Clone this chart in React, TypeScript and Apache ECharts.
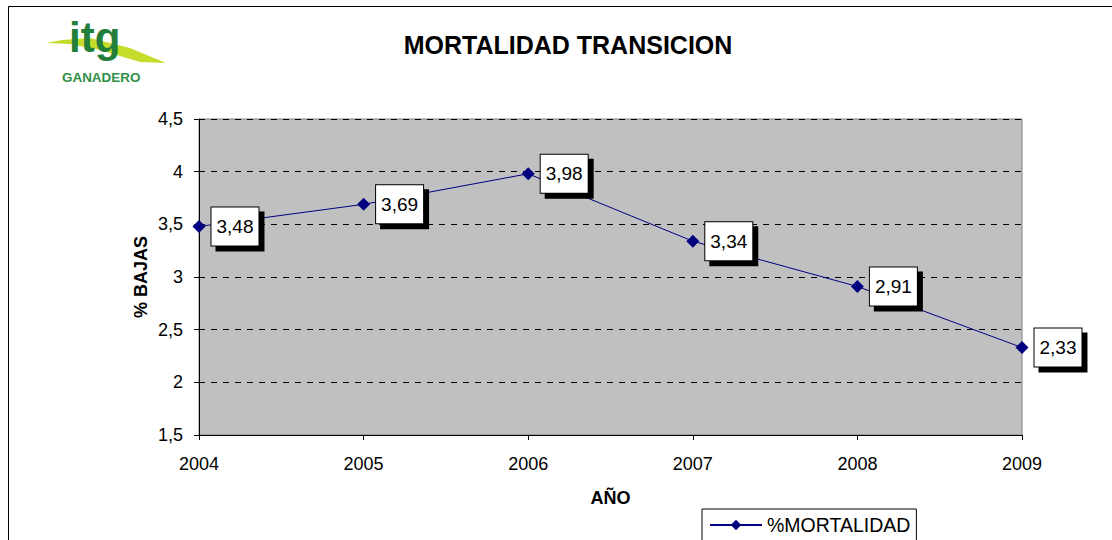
import React, { useEffect, useRef } from "react";
import * as echarts from "echarts";

const years = ["2004", "2005", "2006", "2007", "2008", "2009"];
const mortalidad = [3.48, 3.69, 3.98, 3.34, 2.91, 2.33];
const seriesName = "%MORTALIDAD";

export default function App() {
  const ref = useRef<HTMLDivElement>(null);
  useEffect(() => {
    const chart = echarts.init(ref.current!, null, { renderer: "svg" });
    const fmt = (v: number) => String(v).replace(".", ",");
    const ff = "Liberation Sans, Arial, sans-serif";
    chart.setOption({
      animation: false,
      backgroundColor: "#ffffff",
      textStyle: { fontFamily: ff },
      title: {
        text: "MORTALIDAD TRANSICION",
        left: 563,
        top: 27,
        textAlign: "center",
        textStyle: { fontSize: 25, fontWeight: "bold", color: "#000", fontFamily: ff },
      },
      legend: {
        left: 702,
        top: 509,
        padding: [6, 6, 6, 7],
        itemWidth: 52,
        itemHeight: 13,
        borderColor: "#000",
        borderWidth: 1,
        backgroundColor: "#fff",
        textStyle: { fontSize: 19.5, color: "#000", fontFamily: ff },
        data: [seriesName],
      },
      grid: {
        left: 199,
        top: 119,
        right: 90,
        bottom: 105,
        show: true,
        backgroundColor: "#c0c0c0",
        borderColor: "#808080",
        borderWidth: 1,
      },
      xAxis: {
        type: "category",
        data: years,
        boundaryGap: false,
        name: "AÑO",
        nameLocation: "middle",
        nameGap: 54,
        nameMoveOverlap: false,
        nameTextStyle: { fontSize: 18, fontWeight: "bold", color: "#000", fontFamily: ff },
        axisLine: { lineStyle: { color: "#000" } },
        axisTick: { show: true, length: 5, lineStyle: { color: "#000" } },
        axisLabel: { fontSize: 18, color: "#000", margin: 20, fontFamily: ff },
        splitLine: { show: false },
      },
      yAxis: {
        type: "value",
        min: 1.5,
        max: 4.5,
        interval: 0.5,
        name: "% BAJAS",
        nameLocation: "middle",
        nameGap: 49,
        nameMoveOverlap: false,
        nameTextStyle: { fontSize: 18, fontWeight: "bold", color: "#000", fontFamily: ff },
        axisLine: { show: true, lineStyle: { color: "#000" } },
        axisTick: { show: true, length: 5, lineStyle: { color: "#000" } },
        axisLabel: { fontSize: 18, color: "#000", margin: 16, formatter: fmt, fontFamily: ff },
        splitLine: { show: true, lineStyle: { color: "#000", type: [6, 6], width: 1 } },
      },
      series: [
        {
          name: seriesName,
          type: "line",
          data: mortalidad,
          symbol: "diamond",
          symbolSize: 13,
          itemStyle: { color: "#000080" },
          lineStyle: { color: "#000080", width: 1 },
          label: {
            show: true,
            position: "right",
            distance: 6,
            formatter: (p: any) => fmt(p.value),
            fontSize: 19,
            fontFamily: ff,
            color: "#000",
            backgroundColor: "#ffffff",
            borderColor: "#000",
            borderWidth: 1,
            padding: [10, 5, 9, 5],
            shadowColor: "#000",
            shadowBlur: 0,
            shadowOffsetX: 5,
            shadowOffsetY: 5,
          },
          z: 3,
        },
      ],
      graphic: [
        {
          type: "rect",
          shape: { x: 8.5, y: 6.5, width: 1200, height: 600 },
          style: { fill: "none", stroke: "#000", lineWidth: 1 },
          silent: true,
          z: -10,
        },
        {
          type: "polygon",
          shape: { points: [[46, 43], [62, 40], [90, 38], [130, 48], [166, 63], [140, 62], [100, 50], [70, 44]] },
          style: { fill: "#c6dc2a" },
        },
        {
          type: "text",
          x: 69,
          y: 16,
          style: {
            text: "itg",
            font: "bold 42px Liberation Sans, Arial, sans-serif",
            fill: "#237e3a",
          },
        },
        {
          type: "text",
          x: 62,
          y: 72,
          scaleX: 1.12,
          style: {
            text: "GANADERO",
            font: "bold 12px Liberation Sans, Arial, sans-serif",
            fill: "#2f8f45",
          },
        },
      ],
    });
    return () => chart.dispose();
  }, []);
  return (
    <div
      ref={ref}
      style={{ position: "fixed", left: 0, top: 0, width: 1112, height: 540 }}
    />
  );
}
